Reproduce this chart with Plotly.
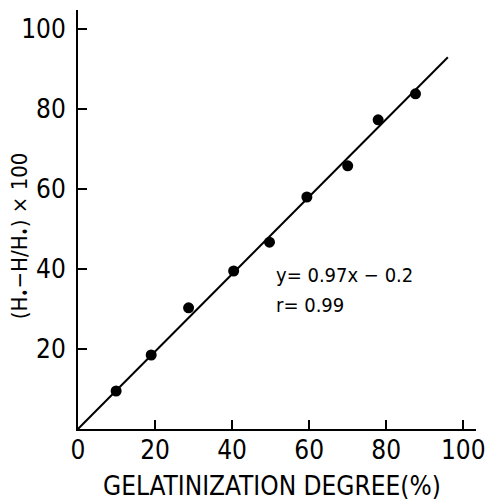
import plotly.graph_objects as go

# Data
gel_degree = [9.9, 19.0, 28.7, 40.4, 49.7, 59.4, 70.0, 77.9, 87.6]
ratio = [9.5, 18.5, 30.3, 39.5, 46.7, 58.0, 65.8, 77.3, 83.8]

# Regression line y = 0.97x - 0.2
fit_slope = 0.97
fit_intercept = -0.2
fit_x = [0, 96]
fit_y = [max(0.0, fit_slope * v + fit_intercept) for v in fit_x]

x_ticks = [0, 20, 40, 60, 80, 100]
y_ticks = [20, 40, 60, 80, 100]

FONT = "Liberation Sans Narrow, DejaVu Sans Condensed, Arial Narrow, sans-serif"

fig = go.Figure()
fig.add_trace(go.Scatter(x=fit_x, y=fit_y, mode="lines",
                         line=dict(color="black", width=2), showlegend=False))
fig.add_trace(go.Scatter(x=gel_degree, y=ratio, mode="markers",
                         marker=dict(color="black", size=11), showlegend=False))

axis_common = dict(showline=True, linecolor="black", linewidth=2,
                   ticks="inside", ticklen=9, tickwidth=2, tickcolor="black",
                   showgrid=False, zeroline=False,
                   tickfont=dict(family=FONT, size=26, color="black"))

fig.update_xaxes(range=[0, 103.3], tickvals=x_ticks, ticktext=[str(v) for v in x_ticks],
                 ticklabelstandoff=-3, **axis_common)
fig.update_yaxes(range=[0, 104.75], tickvals=y_ticks, ticktext=[str(v) for v in y_ticks],
                 ticklabelstandoff=5, **axis_common)

fig.add_annotation(text="GELATINIZATION DEGREE(%)", xref="paper", yref="paper",
                   x=0.488, y=0, yshift=-57, xanchor="center", yanchor="middle",
                   showarrow=False, font=dict(family=FONT, size=26, color="black"))
fig.add_annotation(text="(H<sub>•</sub>−H/H<sub>•</sub>) × 100", xref="paper", yref="paper",
                   x=0, xshift=-57, y=0.46, xanchor="center", yanchor="middle",
                   textangle=-90, showarrow=False,
                   font=dict(family=FONT, size=22, color="black"))
fig.add_annotation(text="y= 0.97x − 0.2", x=50.8, y=38.5, xanchor="left", yanchor="middle",
                   showarrow=False, font=dict(family=FONT, size=20, color="black"))
fig.add_annotation(text="r= 0.99", x=50.8, y=31, xanchor="left", yanchor="middle",
                   showarrow=False, font=dict(family=FONT, size=20, color="black"))

fig.update_layout(width=495, height=503, margin=dict(l=78, r=10, t=10, b=74),
                  paper_bgcolor="white", plot_bgcolor="white")

fig.write_html("out.html")
